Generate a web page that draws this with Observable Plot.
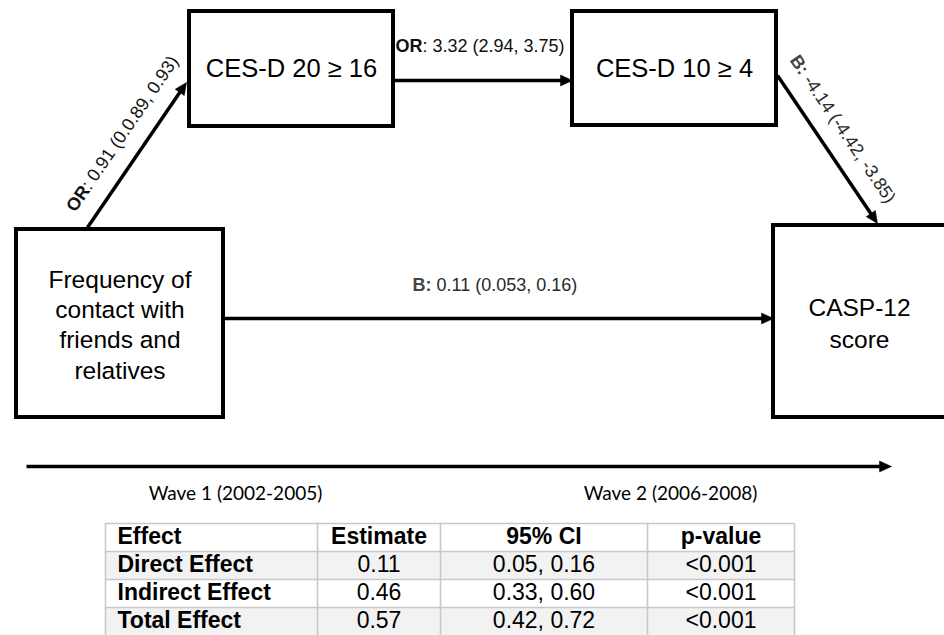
<!DOCTYPE html>
<html><head><meta charset="utf-8">
<script src="https://cdn.jsdelivr.net/npm/d3@7"></script>
<script src="https://cdn.jsdelivr.net/npm/@observablehq/plot@0.6"></script>
<style>html,body{margin:0;padding:0;background:#fff;} #chart svg{display:block;}</style>
</head><body><div id="chart"></div>
<script>
// ---------- data ----------
const nodeNames = ["Frequency of\ncontact with\nfriends and\nrelatives", "CES-D 20 ≥ 16", "CES-D 10 ≥ 4", "CASP-12\nscore"];
const edgeFrom = [0, 1, 2, 0];
const edgeTo = [1, 2, 3, 3];
const edgeStat = ["OR", "OR", "B", "B"];
const edgeEstimate = ["0.91", "3.32", "-4.14", "0.11"];
const edgeCI = ["(0.0.89, 0.93)", "(2.94, 3.75)", "(-4.42, -3.85)", "(0.053, 0.16)"];
const waveLabels = ["Wave 1 (2002-2005)", "Wave 2 (2006-2008)"];
const tableHeader = ["Effect", "Estimate", "95% CI", "p-value"];
const effectNames = ["Direct Effect", "Indirect Effect", "Total Effect"];
const effectEstimates = ["0.11", "0.46", "0.57"];
const effectCI = ["0.05, 0.16", "0.33, 0.60", "0.42, 0.72"];
const effectP = ["<0.001", "<0.001", "<0.001"];

// ---------- layout (positions & styles) ----------
const W = 944, H = 635;
const boxLayout = [
  {x1: 16, x2: 223, y1: 229, y2: 417, lh: 1.24, fs: 24.5},
  {x1: 189, x2: 393, y1: 11, y2: 126, lh: 1, fs: 25.5},
  {x1: 572, x2: 776, y1: 11, y2: 125, lh: 1, fs: 25.5},
  {x1: 773, x2: 946, y1: 225, y2: 417, lh: 1.3, fs: 24.5}
];
const edgeLayout = [
  {x0: 87, y0: 227, x1: 186, y1: 82, along: 32, perp: 24},
  {x0: 393, y0: 80, x1: 572, y1: 80, along: 29, perp: 34},
  {x0: 777, y0: 75, x1: 877, y1: 223, along: 13, perp: 24},
  {x0: 223, y0: 318, x1: 773, y1: 318, along: 208, perp: 33}
];
const timelineLayout = {x0: 26, y0: 466, x1: 891, y1: 466, labelY: 493, labelX: [235, 670]};
const colEdges = [105, 317, 440, 647, 794];
const rowEdges = [523, 551, 579, 607, 636];
const HEAD_LEN = 12, HEAD_W = 11;
const statColor = {OR: "#111", B: "#444"};
const restColor = {OR: "#111", B: "#2a2a2a"};

// ---------- derived ----------
const nodes = nodeNames.map((name, i) => ({name, ...boxLayout[i],
  cx: (boxLayout[i].x1 + Math.min(boxLayout[i].x2, W + 1)) / 2, cy: (boxLayout[i].y1 + boxLayout[i].y2) / 2}));

function arrowOf(g) {
  const dx = g.x1 - g.x0, dy = g.y1 - g.y0, len = Math.hypot(dx, dy);
  const ux = dx / len, uy = dy / len, nx = uy, ny = -ux;
  return {
    x0: g.x0, y0: g.y0, lx: g.x1 - ux * HEAD_LEN * 0.8, ly: g.y1 - uy * HEAD_LEN * 0.8,
    tx: g.x1, ty: g.y1, rot: Math.atan2(dy, dx) * 180 / Math.PI + 90,
    angle: Math.atan2(dy, dx) * 180 / Math.PI,
    jx: g.x0 + ux * (g.along || 0) + nx * (g.perp || 0),
    jy: g.y0 + uy * (g.along || 0) + ny * (g.perp || 0)
  };
}
const edges = edgeFrom.map((f, i) => {
  const a = arrowOf(edgeLayout[i]);
  const stat = edgeStat[i];
  return {...a, from: nodeNames[f], to: nodeNames[edgeTo[i]], stat,
    prefix: stat === "OR" ? "OR" : "B:",
    rest: (stat === "OR" ? ":\u00a0" : "\u00a0") + edgeEstimate[i] + " " + edgeCI[i],
    pc: statColor[stat], rc: restColor[stat]};
});
const arrows = [...edges, arrowOf(timelineLayout)];
const waves = waveLabels.map((label, i) => ({label, x: timelineLayout.labelX[i], y: timelineLayout.labelY}));

const tableRows = [tableHeader, ...effectNames.map((n, i) => [n, effectEstimates[i], effectCI[i], effectP[i]])];
const cells = [];
tableRows.forEach((row, r) => row.forEach((text, c) => cells.push({
  text, r, c, bold: r === 0 || c === 0,
  x: c === 0 ? colEdges[0] + 12 : (colEdges[c] + colEdges[c + 1]) / 2,
  y: (rowEdges[r] + rowEdges[r + 1]) / 2 - 1
})));
const rowBands = tableRows.map((row, r) => ({x1: colEdges[0], x2: colEdges[colEdges.length - 1], y1: rowEdges[r], y2: rowEdges[r + 1], fill: (r === 1 || r === 3) ? "#f2f2f2" : "#ffffff"}));
const vLines = colEdges.map(x => ({x, y1: rowEdges[0], y2: rowEdges[rowEdges.length - 1]}));
const hLines = rowEdges.map(y => ({y, x1: colEdges[0], x2: colEdges[colEdges.length - 1]}));

const headSymbol = {draw(ctx) { ctx.moveTo(0, 0); ctx.lineTo(-HEAD_W / 2, HEAD_LEN); ctx.lineTo(HEAD_W / 2, HEAD_LEN); ctx.closePath(); }};

const FONT = "'Liberation Sans', Arial, Helvetica, sans-serif";

const nodeTextMarks = [...new Set(nodes.map(d => d.lh + "|" + d.fs))].map(key => {
  const [lh, fs] = key.split("|").map(Number);
  return Plot.text(nodes.filter(d => d.lh === lh && d.fs === fs), {x: "cx", y: "cy", text: "name", fontSize: fs, lineHeight: lh, fill: "#000"});
});

const chart = Plot.plot({
  width: W, height: H, margin: 0,
  x: {domain: [0, W], range: [0, W], axis: null},
  y: {domain: [0, H], range: [0, H], axis: null},
  color: {type: "identity"},
  style: {fontFamily: FONT, background: "#fff", overflow: "hidden"},
  marks: [
    // table
    Plot.rect(rowBands, {x1: "x1", x2: "x2", y1: "y1", y2: "y2", fill: "fill"}),
    Plot.ruleY(hLines, {y: "y", x1: "x1", x2: "x2", stroke: "#c8c8c8", strokeWidth: 1.6}),
    Plot.ruleX(vLines, {x: "x", y1: "y1", y2: "y2", stroke: "#c8c8c8", strokeWidth: 1.6}),
    Plot.text(cells.filter(d => d.bold && d.c === 0), {x: "x", y: "y", text: "text", textAnchor: "start", fontWeight: "bold", fontSize: 23, fill: "#000"}),
    Plot.text(cells.filter(d => d.bold && d.c > 0), {x: "x", y: "y", text: "text", textAnchor: "middle", fontWeight: "bold", fontSize: 23, fill: "#000"}),
    Plot.text(cells.filter(d => !d.bold), {x: "x", y: "y", text: "text", textAnchor: "middle", fontSize: 23, fill: "#000"}),
    // arrows
    Plot.link(arrows, {x1: "x0", y1: "y0", x2: "lx", y2: "ly", stroke: "#000", strokeWidth: 3.5}),
    Plot.dot(arrows, {x: "tx", y: "ty", symbol: headSymbol, rotate: "rot", fill: "#000", stroke: "#000", strokeWidth: 0.5}),
    // boxes
    Plot.rect(nodes, {x1: "x1", x2: "x2", y1: "y1", y2: "y2", fill: "#fff", stroke: "#000", strokeWidth: 4}),
    ...nodeTextMarks,
    // edge labels
    Plot.text(edges, {x: "jx", y: "jy", text: "prefix", rotate: "angle", textAnchor: "end", fontWeight: "bold", fontSize: 18, fill: "pc"}),
    Plot.text(edges, {x: "jx", y: "jy", text: "rest", rotate: "angle", textAnchor: "start", fontSize: 18, fill: "rc"}),
    // wave labels
    Plot.text(waves, {x: "x", y: "y", text: "label", fontSize: 19, fontFamily: "Lato, 'Open Sans', sans-serif", fill: "#000"})
  ]
});
document.getElementById("chart").appendChild(chart);
</script>
</body></html>
